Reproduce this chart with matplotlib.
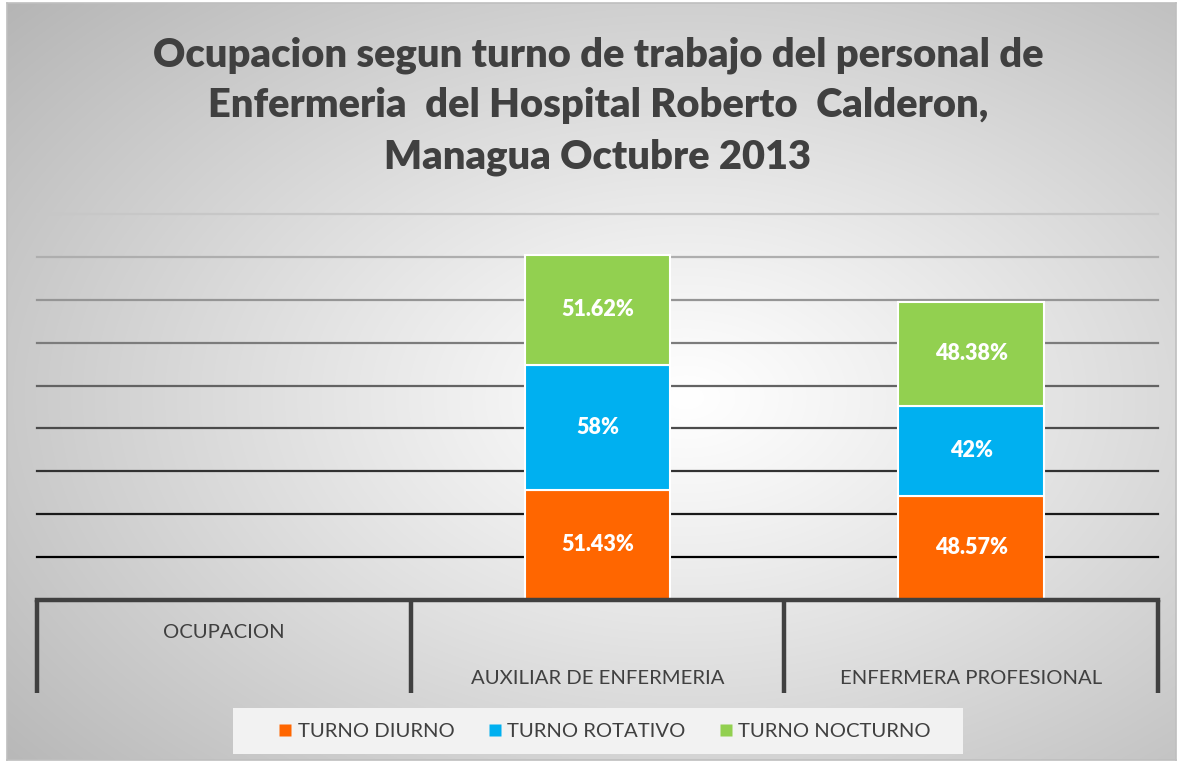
import matplotlib
matplotlib.use('Agg')
import matplotlib.pyplot as plt
import numpy as np
from matplotlib.lines import Line2D
from matplotlib.patches import Rectangle

categories = ['OCUPACION', 'AUXILIAR DE ENFERMERIA', 'ENFERMERA PROFESIONAL']
series_names = ['TURNO DIURNO', 'TURNO ROTATIVO', 'TURNO NOCTURNO']
diurno = [0, 51.43, 48.57]
rotativo = [0, 58, 42]
nocturno = [0, 51.62, 48.38]
labels_diurno = ['', '51.43%', '48.57%']
labels_rotativo = ['', '58%', '42%']
labels_nocturno = ['', '51.62%', '48.38%']
title = ('Ocupacion segun turno de trabajo del personal de\n'
         'Enfermeria  del Hospital Roberto  Calderon,\n'
         'Managua Octubre 2013')

colors = ['#FF6600', '#00B0F0', '#92D050']
TEXT = '#404040'
W, H = 1178, 763

plt.rcParams['font.family'] = ['Lato', 'DejaVu Sans']

fig = plt.figure(figsize=(W / 100, H / 100), dpi=100, facecolor='white')

# radial grey background, white near the middle
bg = fig.add_axes([7 / W, 3 / H, (1176 - 7) / W, (760 - 3) / H], zorder=0)
yy, xx = np.mgrid[0:400, 0:600]
cx, cy = 0.58 * 600, 0.52 * 400
r = np.hypot((xx - cx) / 600, (yy - cy) / 400)
r = r / r.max()
shade = 1.0 - 0.29 * r ** 1.1
bg.imshow(np.dstack([shade] * 3), aspect='auto', extent=[0, 1, 0, 1],
          interpolation='bicubic')
bg.set_xticks([])
bg.set_yticks([])
for s in bg.spines.values():
    s.set_color('#bfbfbf')
    s.set_linewidth(1.2)

# plot area in pixel terms: x 37..1158, y 214..600
ax = fig.add_axes([37 / W, 1 - 600 / H, (1158 - 37) / W, (600 - 214) / H], zorder=1)
ax.set_facecolor('none')
x = np.arange(len(categories))
ax.set_xlim(-0.5, 2.5)
ax.set_ylim(0, 180)

# gridlines fading from light grey at top to black at bottom
for t in np.arange(20, 181, 20):
    g = 0.78 * (t - 20) / 160
    ax.axhline(t, color=(g, g, g), lw=1.6, zorder=1, clip_on=False)

bw = 0.39
bottom = np.zeros(3)
for vals, labs, col in zip([diurno, rotativo, nocturno],
                           [labels_diurno, labels_rotativo, labels_nocturno], colors):
    bars = ax.bar(x, vals, bw, bottom=bottom, color=col, edgecolor='white',
                  linewidth=1.5, zorder=2)
    for b, lab in zip(bars, labs):
        if lab:
            ax.text(b.get_x() + b.get_width() / 2, b.get_y() + b.get_height() / 2, lab,
                    ha='center', va='center', color='white', fontsize=15.5,
                    fontweight='heavy', zorder=3)
    bottom += np.array(vals)

for s in ax.spines.values():
    s.set_visible(False)
ax.set_xticks([])
ax.set_yticks([])

# category axis drawn as a bracket grid
tx = ax.get_xaxis_transform()
ax.axhline(0, color=TEXT, lw=3.2, zorder=4, clip_on=False)
depth = -(693 - 600) / (600 - 214)
for xv in [-0.5, 0.5, 1.5, 2.5]:
    ax.plot([xv, xv], [0, depth], color=TEXT, lw=3.2, transform=tx,
            clip_on=False, zorder=4, solid_capstyle='butt')
ax.text(x[0], -(632 - 600) / 386, categories[0], transform=tx, ha='center', va='center',
        fontsize=14.6, color=TEXT)
for xi, c in zip(x[1:], categories[1:]):
    ax.text(xi, -(679 - 600) / 386, c, transform=tx, ha='center', va='center',
            fontsize=14.6, color=TEXT)

fig.text(598 / W, 1 - 106 / H, title, ha='center', va='center', fontsize=28.7,
         fontweight='heavy', color=TEXT, linespacing=1.45, zorder=5)

# legend: light box behind, entries on top
fig.patches.append(Rectangle((233 / W, 1 - 754 / H), (963 - 233) / W, 46 / H,
                             transform=fig.transFigure, facecolor='#f2f2f2',
                             edgecolor='none', zorder=5))
handles = [Line2D([], [], marker='s', ls='none', markersize=9, markerfacecolor=c,
                  markeredgecolor='none') for c in colors]
leg = fig.legend(handles, series_names, loc='center', bbox_to_anchor=(604 / W, 1 - 731 / H),
                 ncol=3, frameon=False, fontsize=14.6, handletextpad=0.2,
                 columnspacing=1.6, handlelength=0.8, labelcolor=TEXT)
leg.set_zorder(6)

fig.savefig('out.png', dpi=100, facecolor='white')
